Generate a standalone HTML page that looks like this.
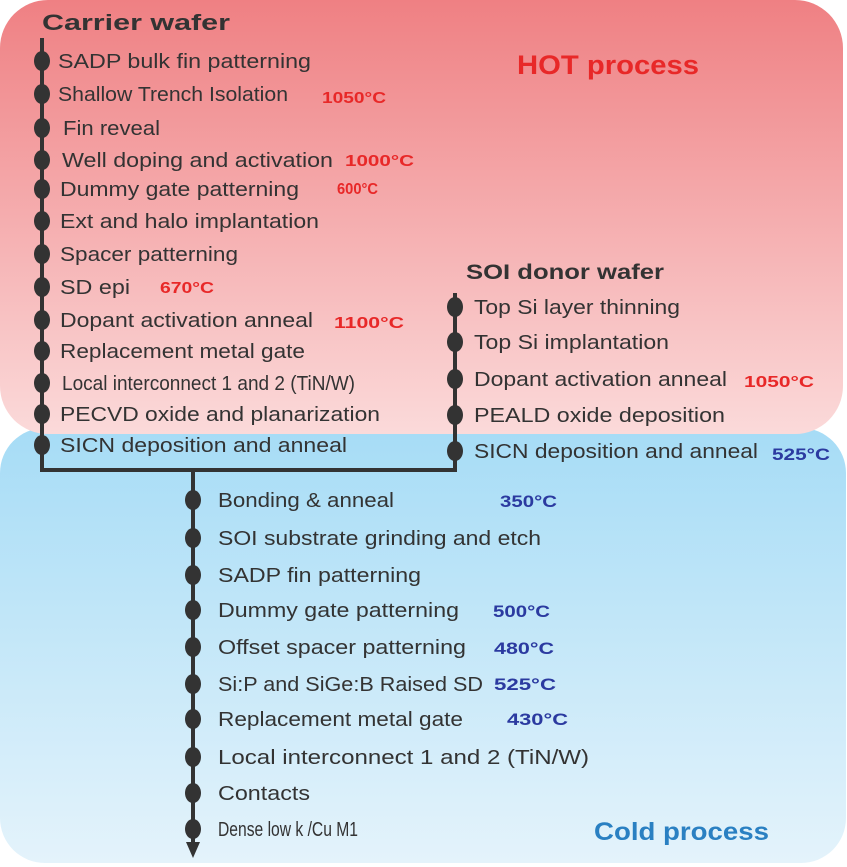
<!DOCTYPE html>
<html><head><meta charset="utf-8"><style>html,body{margin:0;padding:0;background:#fff}svg{display:block}</style></head>
<body>
<svg width="847" height="867" viewBox="0 0 847 867" xmlns="http://www.w3.org/2000/svg" font-family="Liberation Sans, sans-serif">
<defs>
<linearGradient id="r" x1="0" y1="0" x2="0" y2="1"><stop offset="0" stop-color="#ef8083"/><stop offset="1" stop-color="#fbdada"/></linearGradient>
<linearGradient id="b" x1="0" y1="0" x2="0" y2="1"><stop offset="0" stop-color="#a6dcf6"/><stop offset="1" stop-color="#e4f3fb"/></linearGradient>
</defs>
<rect x="0" y="428" width="846" height="435" rx="45" fill="url(#b)"/>
<rect x="0" y="0" width="843" height="434" rx="48" fill="url(#r)"/>
<g stroke="#333" stroke-width="4" fill="none">
<path d="M42 38 V470 H455 V293"/>
<path d="M193 470 V845"/>
</g>
<polygon points="186,842 200,842 193,858" fill="#333"/>
<g fill="#333">
<ellipse cx="42" cy="61" rx="8" ry="10"/><ellipse cx="42" cy="94" rx="8" ry="10"/><ellipse cx="42" cy="128" rx="8" ry="10"/><ellipse cx="42" cy="160" rx="8" ry="10"/><ellipse cx="42" cy="189" rx="8" ry="10"/><ellipse cx="42" cy="221" rx="8" ry="10"/><ellipse cx="42" cy="254" rx="8" ry="10"/><ellipse cx="42" cy="287" rx="8" ry="10"/><ellipse cx="42" cy="320" rx="8" ry="10"/><ellipse cx="42" cy="351" rx="8" ry="10"/><ellipse cx="42" cy="383" rx="8" ry="10"/><ellipse cx="42" cy="414" rx="8" ry="10"/><ellipse cx="42" cy="445" rx="8" ry="10"/>
<ellipse cx="455" cy="307" rx="8" ry="10"/><ellipse cx="455" cy="342" rx="8" ry="10"/><ellipse cx="455" cy="379" rx="8" ry="10"/><ellipse cx="455" cy="415" rx="8" ry="10"/><ellipse cx="455" cy="451" rx="8" ry="10"/>
<ellipse cx="193" cy="500" rx="8" ry="10"/><ellipse cx="193" cy="538" rx="8" ry="10"/><ellipse cx="193" cy="575" rx="8" ry="10"/><ellipse cx="193" cy="610" rx="8" ry="10"/><ellipse cx="193" cy="647" rx="8" ry="10"/><ellipse cx="193" cy="684" rx="8" ry="10"/><ellipse cx="193" cy="719" rx="8" ry="10"/><ellipse cx="193" cy="757" rx="8" ry="10"/><ellipse cx="193" cy="793" rx="8" ry="10"/><ellipse cx="193" cy="829" rx="8" ry="10"/>
</g>
<g fill="#333" font-size="20">
<text x="42" y="30" font-size="22" font-weight="bold" textLength="188" lengthAdjust="spacingAndGlyphs">Carrier wafer</text>
<text x="58" y="68" textLength="253" lengthAdjust="spacingAndGlyphs">SADP bulk fin patterning</text>
<text x="58" y="101" textLength="230" lengthAdjust="spacingAndGlyphs">Shallow Trench Isolation</text>
<text x="63" y="135" textLength="97" lengthAdjust="spacingAndGlyphs">Fin reveal</text>
<text x="62" y="167" textLength="271" lengthAdjust="spacingAndGlyphs">Well doping and activation</text>
<text x="60" y="196" textLength="239" lengthAdjust="spacingAndGlyphs">Dummy gate patterning</text>
<text x="60" y="228" textLength="259" lengthAdjust="spacingAndGlyphs">Ext and halo implantation</text>
<text x="60" y="261" textLength="178" lengthAdjust="spacingAndGlyphs">Spacer patterning</text>
<text x="60" y="294" textLength="70" lengthAdjust="spacingAndGlyphs">SD epi</text>
<text x="60" y="327" textLength="253" lengthAdjust="spacingAndGlyphs">Dopant activation anneal</text>
<text x="60" y="358" textLength="245" lengthAdjust="spacingAndGlyphs">Replacement metal gate</text>
<text x="62" y="390" textLength="293" lengthAdjust="spacingAndGlyphs">Local interconnect 1 and 2 (TiN/W)</text>
<text x="60" y="421" textLength="320" lengthAdjust="spacingAndGlyphs">PECVD oxide and planarization</text>
<text x="60" y="452" textLength="287" lengthAdjust="spacingAndGlyphs">SICN deposition and anneal</text>
<text x="466" y="279" font-size="21" font-weight="bold" textLength="198" lengthAdjust="spacingAndGlyphs">SOI donor wafer</text>
<text x="474" y="314" textLength="206" lengthAdjust="spacingAndGlyphs">Top Si layer thinning</text>
<text x="474" y="349" textLength="195" lengthAdjust="spacingAndGlyphs">Top Si implantation</text>
<text x="474" y="386" textLength="253" lengthAdjust="spacingAndGlyphs">Dopant activation anneal</text>
<text x="474" y="422" textLength="251" lengthAdjust="spacingAndGlyphs">PEALD oxide deposition</text>
<text x="474" y="458" textLength="284" lengthAdjust="spacingAndGlyphs">SICN deposition and anneal</text>
<text x="218" y="507" textLength="176" lengthAdjust="spacingAndGlyphs">Bonding &amp; anneal</text>
<text x="218" y="545" textLength="323" lengthAdjust="spacingAndGlyphs">SOI substrate grinding and etch</text>
<text x="218" y="582" textLength="203" lengthAdjust="spacingAndGlyphs">SADP fin patterning</text>
<text x="218" y="617" textLength="241" lengthAdjust="spacingAndGlyphs">Dummy gate patterning</text>
<text x="218" y="654" textLength="248" lengthAdjust="spacingAndGlyphs">Offset spacer patterning</text>
<text x="218" y="691" textLength="265" lengthAdjust="spacingAndGlyphs">Si:P and SiGe:B Raised SD</text>
<text x="218" y="726" textLength="245" lengthAdjust="spacingAndGlyphs">Replacement metal gate</text>
<text x="218" y="764" textLength="371" lengthAdjust="spacingAndGlyphs">Local interconnect 1 and 2 (TiN/W)</text>
<text x="218" y="800" textLength="92" lengthAdjust="spacingAndGlyphs">Contacts</text>
<text x="218" y="836" textLength="140" lengthAdjust="spacingAndGlyphs">Dense low k /Cu M1</text>
</g>
<g font-weight="bold" font-size="16" fill="#e82828">
<text x="517" y="74" font-size="27" textLength="182" lengthAdjust="spacingAndGlyphs">HOT process</text>
<text x="322" y="103" textLength="64" lengthAdjust="spacingAndGlyphs">1050°C</text>
<text x="345" y="166" textLength="69" lengthAdjust="spacingAndGlyphs">1000°C</text>
<text x="337" y="194" textLength="41" lengthAdjust="spacingAndGlyphs">600°C</text>
<text x="160" y="293" textLength="54" lengthAdjust="spacingAndGlyphs">670°C</text>
<text x="334" y="328" textLength="70" lengthAdjust="spacingAndGlyphs">1100°C</text>
<text x="744" y="387" textLength="70" lengthAdjust="spacingAndGlyphs">1050°C</text>
</g>
<g font-weight="bold" font-size="17" fill="#2b3aa0">
<text x="772" y="460" textLength="58" lengthAdjust="spacingAndGlyphs">525°C</text>
<text x="500" y="507" textLength="57" lengthAdjust="spacingAndGlyphs">350°C</text>
<text x="493" y="617" textLength="57" lengthAdjust="spacingAndGlyphs">500°C</text>
<text x="494" y="654" textLength="60" lengthAdjust="spacingAndGlyphs">480°C</text>
<text x="494" y="690" textLength="62" lengthAdjust="spacingAndGlyphs">525°C</text>
<text x="507" y="725" textLength="61" lengthAdjust="spacingAndGlyphs">430°C</text>
<text x="594" y="840" font-size="25" fill="#2a80c2" textLength="175" lengthAdjust="spacingAndGlyphs">Cold process</text>
</g>
</svg>
</body></html>
